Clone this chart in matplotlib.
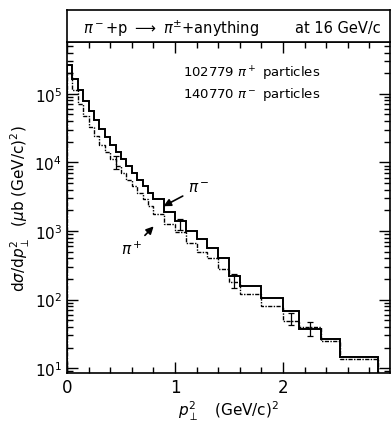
import numpy as np
import matplotlib.pyplot as plt

# bin edges in p_perp^2 (GeV/c)^2
edges = [0.0, 0.05, 0.10, 0.15, 0.20, 0.25, 0.30, 0.35, 0.40, 0.45, 0.50,
         0.55, 0.60, 0.65, 0.70, 0.75, 0.80, 0.90, 1.00, 1.10, 1.20, 1.30,
         1.40, 1.50, 1.60, 1.80, 2.00, 2.15, 2.35, 2.53, 2.88]

# log10 of d sigma / d p_perp^2
log_pim = [5.42, 5.22, 5.05, 4.90, 4.75, 4.62, 4.49, 4.37, 4.25, 4.15,
           4.05, 3.95, 3.85, 3.75, 3.65, 3.56, 3.47, 3.28, 3.14, 3.00,
           2.88, 2.75, 2.60, 2.35, 2.20, 2.02, 1.83, 1.57, 1.42, 1.16]
log_pip = [5.30, 5.05, 4.85, 4.68, 4.52, 4.38, 4.26, 4.15, 4.05, 3.95,
           3.85, 3.75, 3.65, 3.55, 3.46, 3.37, 3.25, 3.10, 2.98, 2.82,
           2.69, 2.60, 2.45, 2.25, 2.08, 1.90, 1.69, 1.60, 1.40, 1.13]

pim = 10 ** np.array(log_pim)
pip = 10 ** np.array(log_pip)

# a few error bars drawn on the histograms
err_x = [0.45, 1.05, 1.55, 2.07, 2.25]
err_y = [10 ** 4.0, 10 ** 3.1, 10 ** 2.27, 10 ** 1.72, 10 ** 1.57]
err_dy = [0.10, 0.08, 0.10, 0.09, 0.10]   # in decades

fig = plt.figure(figsize=(3.91, 4.31), dpi=100)
ax = fig.add_axes([67/391, 57/431, 323/391, 331/431])

ax.stairs(pim, edges, color="black", linewidth=1.4)
ax.stairs(pip, edges, color="black", linewidth=1.0, linestyle=(0, (3, 1, 1, 1)))

ey = np.array(err_y)
ed = np.array(err_dy)
ax.errorbar(err_x, ey, yerr=[ey - ey / 10 ** ed, ey * 10 ** ed - ey],
            fmt="none", ecolor="black", elinewidth=0.9, capsize=2.5, capthick=0.9)

ax.set_yscale("log")
ax.set_xlim(0, 2.99)
ax.set_ylim(8.5, 5.7e5)
ax.set_xticks([0, 1, 2])
ax.set_xticks(np.arange(0.2, 3.0, 0.2), minor=True)
ax.set_xticklabels(["0", "1", "2"], fontsize=12)
ax.set_yticks([1e1, 1e2, 1e3, 1e4, 1e5])
ax.set_yticklabels([r"$10^1$", r"$10^2$", r"$10^3$", r"$10^4$", r"$10^5$"], fontsize=11)
ax.tick_params(which="both", direction="in", top=True, right=True, width=1)
ax.tick_params(which="major", length=8)
ax.tick_params(which="minor", length=4)
for s in ax.spines.values():
    s.set_linewidth(1.2)

ax.set_xlabel(r"$p_\perp^2$   (GeV/c)$^2$", fontsize=11, labelpad=2)
ax.set_ylabel(r"d$\sigma$/d$p_\perp^2$  ($\mu$b (GeV/c)$^2$)", fontsize=11, labelpad=2)

ax.text(1.07, 2.05e5, r"102779 $\pi^+$ particles", fontsize=9.5, va="center")
ax.text(1.07, 1.02e5, r"140770 $\pi^-$ particles", fontsize=9.5, va="center")

ax.annotate(r"$\pi^-$", xy=(0.87, 2.2e3), xytext=(1.12, 4.3e3), fontsize=11,
            va="center", arrowprops=dict(arrowstyle="-|>", color="black", lw=1.2))
ax.annotate(r"$\pi^+$", xy=(0.82, 1.25e3), xytext=(0.50, 5.5e2), fontsize=11,
            va="center", arrowprops=dict(arrowstyle="-|>", color="black", lw=1.2))

# header box above the plot
hdr = fig.add_axes([67/391, 388/431, 323/391, 32/431])
hdr.set_xticks([])
hdr.set_yticks([])
for s in hdr.spines.values():
    s.set_linewidth(1.2)
hdr.text(0.05, 0.45, r"$\pi^-$+p $\longrightarrow$ $\pi^{\pm}$+anything", fontsize=10.5,
         va="center", ha="left")
hdr.text(0.97, 0.45, "at 16 GeV/c", fontsize=10.5, va="center", ha="right")

fig.savefig("out.png", dpi=100)
